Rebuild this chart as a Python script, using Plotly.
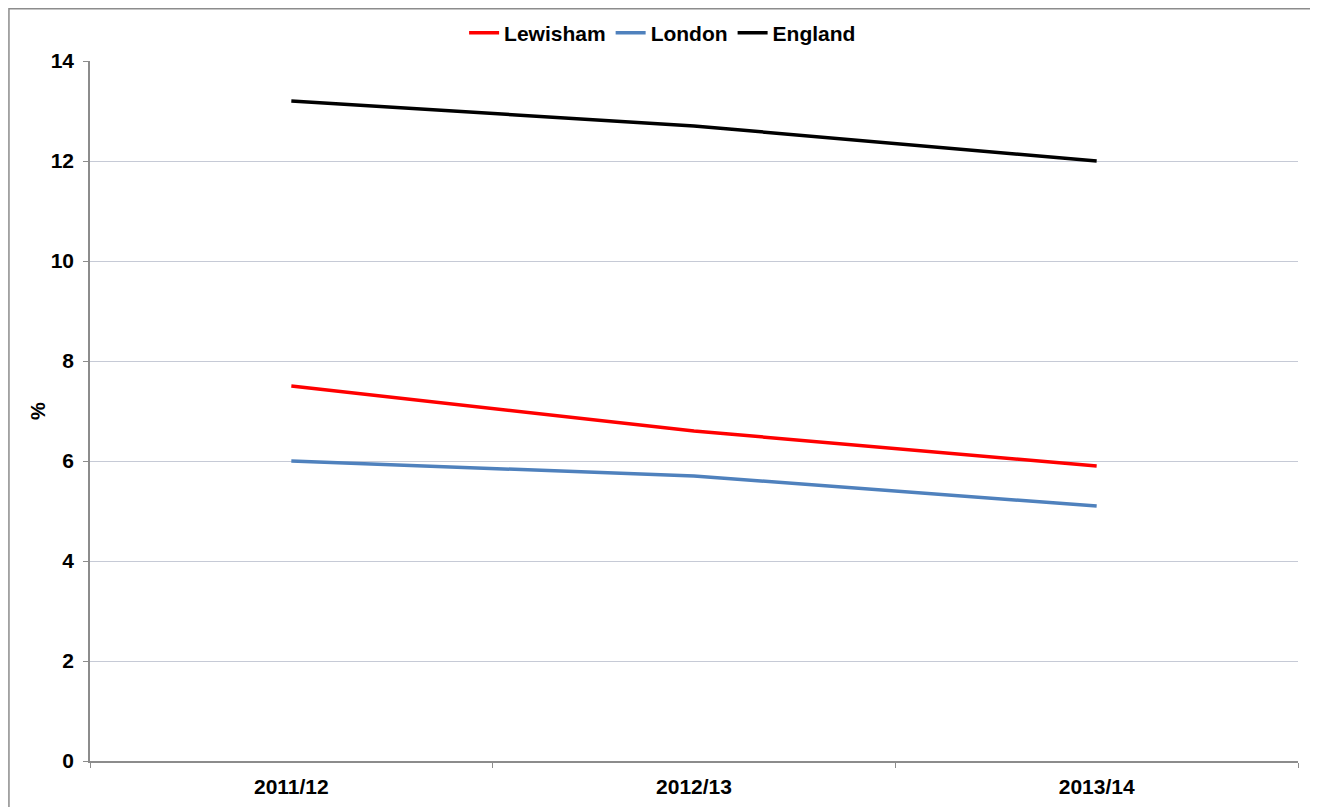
import plotly.graph_objects as go

years = ["2011/12", "2012/13", "2013/14"]
lewisham = [7.5, 6.6, 5.9]
london = [6.0, 5.7, 5.1]
england = [13.2, 12.7, 12.0]

series = [
    ("Lewisham", lewisham, "#ff0000"),
    ("London", london, "#4f81bd"),
    ("England", england, "#000000"),
]

FONT = "Liberation Sans, Arial, sans-serif"

fig = go.Figure()
for name, vals, colour in series:
    fig.add_trace(go.Scatter(
        x=years, y=vals, name=name, mode="lines",
        line=dict(color=colour, width=3.5),
    ))

# outer chart border (bottom edge falls off the page)
fig.add_shape(type="rect", xref="paper", yref="paper",
              x0=-0.0671, x1=1.0149, y0=-0.2, y1=1.0745,
              line=dict(color="#8c8c8c", width=1.5), layer="below")

# page body has an 8px margin, so the figure is 8px smaller and margins shifted
fig.update_layout(
    width=1310, height=799,
    margin=dict(l=82, r=20, t=53, b=46, autoexpand=False),
    paper_bgcolor="white", plot_bgcolor="white",
    font=dict(family=FONT, size=21, color="#000000"),
    showlegend=True,
    legend=dict(orientation="h", x=0.474, xanchor="center", y=1.04, yanchor="middle",
                font=dict(size=21, family=FONT, weight="bold"), itemwidth=30,
                tracegroupgap=0, bgcolor="rgba(0,0,0,0)"),
    xaxis=dict(
        showgrid=False, showline=True, linecolor="#8c8c8c", linewidth=1.5,
        ticks="outside", ticklen=5, tickcolor="#8c8c8c", tickson="boundaries",
        tickfont=dict(size=21, family=FONT, weight="bold"), ticklabelstandoff=6,
        range=[-0.5, 2.5],
    ),
    yaxis=dict(
        range=[0, 14], dtick=2, showgrid=True, gridcolor="#c6cad6", gridwidth=1.2,
        showline=True, linecolor="#8c8c8c", linewidth=1.5, zeroline=False,
        ticks="outside", ticklen=5, tickcolor="#8c8c8c",
        tickfont=dict(size=21, family=FONT, weight="bold"), ticklabelstandoff=5,
        title=dict(text="%", font=dict(size=20, family=FONT, weight="bold"), standoff=0),
    ),
)

fig.write_html("out.html")
